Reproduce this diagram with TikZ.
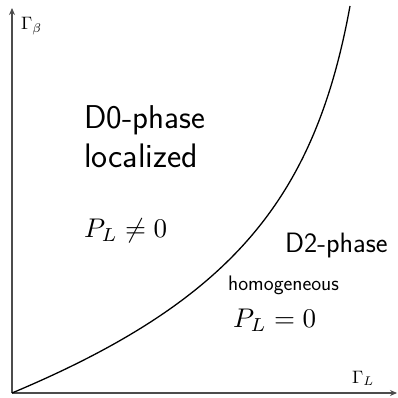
\documentclass[tikz,border=0pt]{standalone}
\usetikzlibrary{arrows.meta, positioning}

\begin{document}
\begin{tikzpicture}[
  x=1pt, y=-1pt,
  >={Stealth[length=7pt, width=6pt]},
  node distance = 5mm,
  axisline/.style  = {->, line width=1.3pt, draw=gray!60!black},
  boundary/.style  = {line width=1.3pt, draw=black},
  phasename/.style = {font=\sffamily\fontsize{33}{36}\selectfont,
                      inner sep=0pt, anchor=base west},
  phasedesc/.style = {font=\sffamily\fontsize{34}{36}\selectfont,
                      inner sep=0pt, anchor=base west},
  ordparam/.style  = {inner sep=0pt, anchor=base west},
  axislabel/.style = {inner sep=0pt, anchor=base west},
]
\useasboundingbox (0,0) rectangle (397,398);

% =============================================
% AXES
% =============================================
\coordinate (origin) at (12,393);
\coordinate (ytip)   at (12,8);
\coordinate (xtip)   at (397,393);
\draw[axisline] (origin) -- (ytip);
\draw[axisline] (origin) -- (xtip);
\node[axislabel] (gbeta) at (21,30)  {\scalebox{1.8}{$\Gamma_\beta$}};
\node[axislabel] (gL)    at (352,383) {\scalebox{1.8}{$\Gamma_L$}};

% =============================================
% PHASE BOUNDARY
% =============================================
\coordinate (ctop) at (350,6);
\draw[boundary] (origin) .. controls (232,300.6) and (315,198.5) .. (ctop);

% =============================================
% D0 REGION (upper left)
% =============================================
\node[phasename] (dzero) at (84,129) {D0-phase};
\node[phasedesc, below=38pt of dzero.base west, anchor=base west]
  (localized) {localized};
\node[ordparam, below=70pt of localized.base west, anchor=base west]
  (pnonzero) {\scalebox{2.7}{$P_L \neq 0$}};

% =============================================
% D2 REGION (lower right)
% =============================================
\node[phasename, font=\sffamily\fontsize{28}{30}\selectfont]
  (dtwo) at (285,252) {D2-phase};
\node[phasedesc, font=\sffamily\fontsize{21}{24}\selectfont,
      below left=38pt and 57pt of dtwo.base west, anchor=base west]
  (homog) {homogeneous};
\node[ordparam, below=37pt of homog.base west, anchor=base west,
      xshift=5pt]
  (pzero) {\scalebox{2.7}{$P_L = 0$}};

\end{tikzpicture}
\end{document}
